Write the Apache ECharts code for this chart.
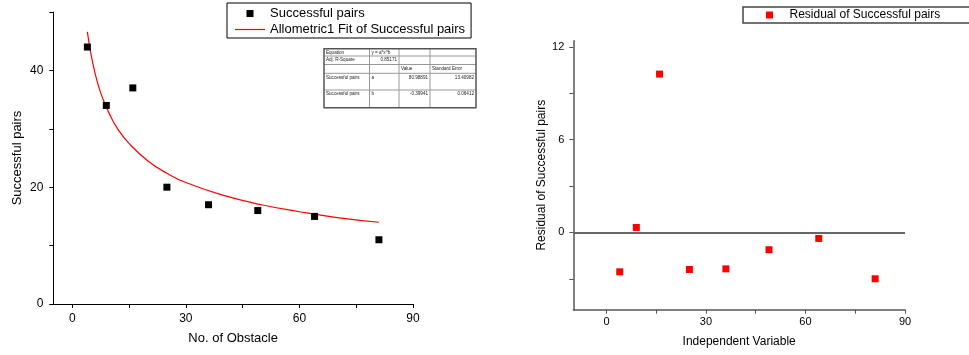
<!DOCTYPE html>
<html lang="en">
    <head>
        <meta charset="UTF-8"/>
        <script src="https://cdn.jsdelivr.net/npm/echarts@6/dist/echarts.min.js"></script>
        <title>Successful pairs fit</title>
        <style>
            html, body { margin: 0; padding: 0; background: #fff; }
        </style>
    </head>
    <body>
        <div id="main" style="width: 969px;height:355px;"></div>
        <script type="text/javascript">

            // measured points
            var obstacle = [4, 9, 16, 25, 36, 49, 64, 81];
            var pairs = [44, 34, 37, 20, 17, 16, 15, 11];

            // fit curve
            var fitX = [4, 5, 6, 7, 8, 10, 12, 15, 20, 25, 30, 40, 50, 60, 70, 81];
            var fitY = [46.6, 42.6, 39.6, 37.2, 35.3, 32.3, 30.0, 27.5, 24.5, 22.4, 20.8, 18.6, 17.0, 15.8, 14.8, 14.0];

            // residual plot
            var residual = [-2.55, 0.32, 10.24, -2.40, -2.36, -1.12, -0.39, -3.00];

            // ticks
            var leftXTicks = [0, 15, 30, 45, 60, 75, 90];
            var leftXLabels = [0, 30, 60, 90];
            var leftYTicks = [0, 10, 20, 30, 40, 50];
            var leftYLabels = [0, 20, 40];
            var rightYTicks = [-3, 0, 3, 6, 9, 12];
            var rightYLabels = [0, 6, 12];

            // fit report table
            var tableCells = [
                ['Equation', 'y = a*x^b', '', ''],
                ['Adj. R-Square', '0.85171', '', ''],
                ['', '', 'Value', 'Standard Error'],
                ['Successful pairs', 'a', '80.98891', '13.40982'],
                ['Successful pairs', 'b', '-0.39941', '0.06412']
            ];

            var FONT = 'Arial, "Liberation Sans", sans-serif';
            var SQUARE = 'path://M0,0h10v10h-10z';

            function zip(xs, ys) {
                var out = [];
                for (var i = 0; i < xs.length; i++) {
                    out.push([xs[i], ys[i]]);
                }
                return out;
            }

            // table drawn as graphic elements
            var colEdges = [324, 369.5, 399, 430, 476];
            var rowEdges = [48.7, 56, 64.5, 73.3, 90, 107.7];
            var rightAligned = {'1,1': 1, '3,2': 1, '3,3': 1, '4,2': 1, '4,3': 1};
            var tableGraphic = [];
            for (var r = 1; r < rowEdges.length - 1; r++) {
                tableGraphic.push({type: 'line', silent: true,
                    shape: {x1: colEdges[0], y1: rowEdges[r], x2: colEdges[4], y2: rowEdges[r]},
                    style: {stroke: '#999', lineWidth: 1}});
            }
            for (var c = 1; c < colEdges.length - 1; c++) {
                tableGraphic.push({type: 'line', silent: true,
                    shape: {x1: colEdges[c], y1: rowEdges[0], x2: colEdges[c], y2: rowEdges[5]},
                    style: {stroke: '#999', lineWidth: 1}});
            }
            tableGraphic.push({type: 'rect', silent: true,
                shape: {x: colEdges[0], y: rowEdges[0], width: colEdges[4] - colEdges[0], height: rowEdges[5] - rowEdges[0]},
                style: {fill: 'none', stroke: '#555', lineWidth: 1.5}});
            for (var i = 0; i < tableCells.length; i++) {
                for (var j = 0; j < 4; j++) {
                    if (!tableCells[i][j]) continue;
                    var right = rightAligned[i + ',' + j];
                    tableGraphic.push({type: 'text', silent: true,
                        x: right ? colEdges[j + 1] - 2 : colEdges[j] + 2,
                        y: rowEdges[i] + 4,
                        style: {text: tableCells[i][j], fontSize: 4.6, fontFamily: FONT, fill: '#222',
                            align: right ? 'right' : 'left', verticalAlign: 'middle'}});
                }
            }

            var myChart = echarts.init(document.getElementById('main'));

            var option = {
                backgroundColor: '#fff',
                animation: false,
                textStyle: {fontFamily: FONT},
                grid: [
                    {left: 53.3, right: 556, top: 12, bottom: 51},
                    {left: 573.3, right: 64, top: 40.7, bottom: 45.3}
                ],
                legend: [
                    {
                        orient: 'vertical', left: 227, top: 3,
                        data: [
                            {name: 'Successful pairs', icon: SQUARE},
                            {name: 'Allometric1 Fit of Successful pairs', icon: 'path://M0,0h30v1.2h-30z'}
                        ],
                        itemWidth: 30, itemHeight: 7, itemGap: 3,
                        padding: [4, 6, 2, 8],
                        borderColor: '#000', borderWidth: 1,
                        textStyle: {fontSize: 13, color: '#000', fontFamily: FONT}
                    },
                    {
                        orient: 'vertical', left: 743, top: 7,
                        data: [{name: 'Residual of Successful pairs', icon: SQUARE}],
                        itemWidth: 30, itemHeight: 7,
                        padding: [2, 40, 2, 23],
                        borderColor: '#444', borderWidth: 1.5,
                        textStyle: {fontSize: 12, color: '#000', fontFamily: FONT}
                    }
                ],
                xAxis: [
                    {
                        gridIndex: 0, type: 'value', min: -5, max: 90,
                        name: 'No. of Obstacle', nameLocation: 'middle', nameGap: 28,
                        nameTextStyle: {fontSize: 13, color: '#000'},
                        axisLine: {onZero: false, lineStyle: {color: '#000', width: 1}},
                        axisTick: {length: 4, customValues: leftXTicks, lineStyle: {color: '#000'}},
                        axisLabel: {customValues: leftXLabels, fontSize: 12, color: '#000', margin: 9},
                        splitLine: {show: false}
                    },
                    {
                        gridIndex: 1, type: 'value', min: -10, max: 90,
                        name: 'Independent Variable', nameLocation: 'middle', nameGap: 26,
                        nameTextStyle: {fontSize: 12, color: '#000'},
                        axisLine: {onZero: false, lineStyle: {color: '#555', width: 1.5}},
                        axisTick: {length: 4, customValues: leftXTicks, lineStyle: {color: '#555'}},
                        axisLabel: {customValues: leftXLabels, fontSize: 11, color: '#000', margin: 7},
                        splitLine: {show: false}
                    }
                ],
                yAxis: [
                    {
                        gridIndex: 0, type: 'value', min: 0, max: 50,
                        name: 'Successful pairs', nameLocation: 'middle', nameGap: 29,
                        nameTextStyle: {fontSize: 13, color: '#000'},
                        axisLine: {onZero: false, lineStyle: {color: '#000', width: 1}},
                        axisTick: {length: 4, customValues: leftYTicks, lineStyle: {color: '#000'}},
                        axisLabel: {customValues: leftYLabels, fontSize: 12, color: '#000', margin: 10},
                        splitLine: {show: false}
                    },
                    {
                        gridIndex: 1, type: 'value', min: -5, max: 12.4,
                        name: 'Residual of Successful pairs', nameLocation: 'middle', nameGap: 26,
                        nameTextStyle: {fontSize: 12, color: '#000'},
                        axisLine: {onZero: false, lineStyle: {color: '#555', width: 1.5}},
                        axisTick: {length: 4, customValues: rightYTicks, lineStyle: {color: '#555'}},
                        axisLabel: {customValues: rightYLabels, fontSize: 11, color: '#000', margin: 9},
                        splitLine: {show: false}
                    }
                ],
                series: [
                    {
                        name: 'Successful pairs', type: 'scatter',
                        xAxisIndex: 0, yAxisIndex: 0,
                        symbol: 'rect', symbolSize: 7,
                        itemStyle: {color: '#000', opacity: 1},
                        data: zip(obstacle, pairs), z: 3
                    },
                    {
                        name: 'Allometric1 Fit of Successful pairs', type: 'line',
                        xAxisIndex: 0, yAxisIndex: 0,
                        showSymbol: false, symbol: 'none', smooth: true,
                        lineStyle: {color: '#ff0000', width: 1.2},
                        itemStyle: {color: '#ff0000'},
                        data: zip(fitX, fitY), z: 2
                    },
                    {
                        name: 'Residual of Successful pairs', type: 'scatter',
                        xAxisIndex: 1, yAxisIndex: 1,
                        symbol: 'rect', symbolSize: 7,
                        itemStyle: {color: '#ff0000', opacity: 1},
                        data: zip(obstacle, residual), z: 3,
                        markLine: {
                            silent: true, symbol: 'none',
                            label: {show: false},
                            lineStyle: {color: '#666', width: 2, type: 'solid'},
                            data: [{yAxis: 0}]
                        }
                    }
                ],
                graphic: tableGraphic
            };

            myChart.setOption(option);

        </script>
    </body>
</html>
